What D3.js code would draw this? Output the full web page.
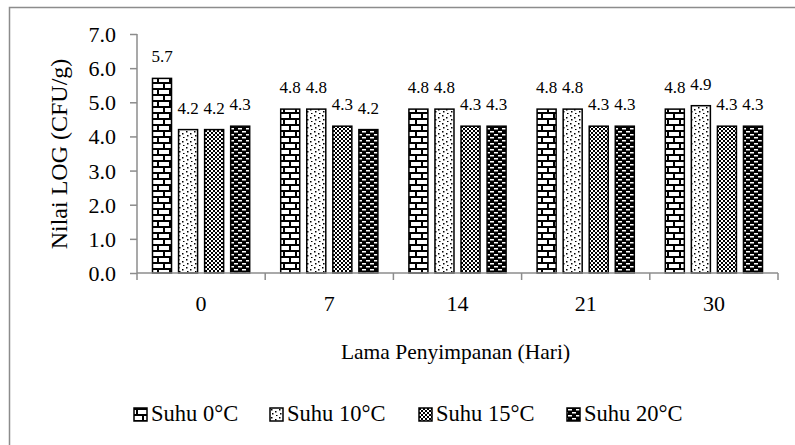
<!DOCTYPE html>
<meta charset="utf-8">
<script src="https://d3js.org/d3.v7.min.js"></script>
<style>
    body { margin: 0; background: #fff; }
    svg text { font-family: "Times New Roman", "Liberation Serif", Times, "DejaVu Serif", serif !important; fill: #000; }
</style>
<div id="chart"></div>
<script>
    // data
    var days = ["0", "7", "14", "21", "30"];
    var seriesNames = ["Suhu 0°C", "Suhu 10°C", "Suhu 15°C", "Suhu 20°C"];
    var suhu0  = [5.7, 4.8, 4.8, 4.8, 4.8];
    var suhu10 = [4.2, 4.8, 4.8, 4.8, 4.9];
    var suhu15 = [4.2, 4.3, 4.3, 4.3, 4.3];
    var suhu20 = [4.3, 4.2, 4.3, 4.3, 4.3];
    var yTicks = [0, 1, 2, 3, 4, 5, 6, 7];

    var series = [suhu0, suhu10, suhu15, suhu20];

    var W = 795, H = 445;
    var margin = {top: 34, right: 17, bottom: 172, left: 137},
        width = W - margin.left - margin.right,
        height = H - margin.top - margin.bottom;

    var serif = '"Times New Roman", "Liberation Serif", Times, "DejaVu Serif", serif';

    var svg = d3.select("#chart").append("svg")
        .attr("width", W).attr("height", H)
        .attr("font-family", serif);

    // hatch patterns
    var defs = svg.append("defs");
    var p0 = defs.append("pattern").attr("id", "pat0").attr("patternUnits", "userSpaceOnUse")
        .attr("width", 12).attr("height", 12);
    p0.append("rect").attr("width", 12).attr("height", 12).attr("fill", "#fff");
    p0.append("rect").attr("x", 0).attr("y", 0).attr("width", 12).attr("height", 2).attr("fill", "#000");
    p0.append("rect").attr("x", 0).attr("y", 6).attr("width", 12).attr("height", 2).attr("fill", "#000");
    p0.append("rect").attr("x", 2).attr("y", 0).attr("width", 2).attr("height", 6).attr("fill", "#000");
    p0.append("rect").attr("x", 8).attr("y", 6).attr("width", 2).attr("height", 6).attr("fill", "#000");

    var p1 = defs.append("pattern").attr("id", "pat1").attr("patternUnits", "userSpaceOnUse")
        .attr("width", 8).attr("height", 8);
    p1.append("rect").attr("width", 8).attr("height", 8).attr("fill", "#fff");
    [[1, 1], [5, 3], [2, 5], [6, 7]].forEach(function (d) {
        p1.append("rect").attr("x", d[0]).attr("y", d[1]).attr("width", 1.5).attr("height", 1.5).attr("fill", "#000");
    });

    var p2 = defs.append("pattern").attr("id", "pat2").attr("patternUnits", "userSpaceOnUse")
        .attr("width", 8).attr("height", 8);
    p2.append("rect").attr("width", 8).attr("height", 8).attr("fill", "#fff");
    [[0, 0], [2, 2], [4, 4], [6, 6], [4, 0], [6, 2], [0, 4], [2, 6]].forEach(function (d) {
        p2.append("rect").attr("x", d[0]).attr("y", d[1]).attr("width", 2).attr("height", 2).attr("fill", "#000");
    });

    var p3 = defs.append("pattern").attr("id", "pat3").attr("patternUnits", "userSpaceOnUse")
        .attr("width", 8).attr("height", 6);
    p3.append("rect").attr("width", 8).attr("height", 6).attr("fill", "#000");
    p3.append("rect").attr("x", 1).attr("y", 1).attr("width", 4).attr("height", 1.5).attr("fill", "#fff");
    p3.append("rect").attr("x", 5).attr("y", 4).attr("width", 3).attr("height", 1.5).attr("fill", "#fff");
    p3.append("rect").attr("x", 0).attr("y", 4).attr("width", 1).attr("height", 1.5).attr("fill", "#fff");

    // outer frame
    svg.append("rect").attr("x", 9.5).attr("y", 7.5).attr("width", 820).attr("height", 500)
        .attr("fill", "none").attr("stroke", "#8c8c8c").attr("stroke-width", 1.5);

    var g = svg.append("g").attr("transform", "translate(" + margin.left + "," + margin.top + ")");

    var x0 = d3.scaleBand().domain(days).range([0, width]);
    var x1 = d3.scaleBand().domain(d3.range(4)).range([15.5, x0.bandwidth() - 15.5]).paddingInner(0.27);
    var y = d3.scaleLinear().domain([0, 7]).range([height, 0]);

    // bars
    series.forEach(function (vals, si) {
        g.append("g").selectAll("rect").data(vals).enter().append("rect")
            .attr("x", function (d, i) { return x0(days[i]) + x1(si); })
            .attr("y", function (d) { return y(d); })
            .attr("width", x1.bandwidth())
            .attr("height", function (d) { return height - y(d); })
            .attr("fill", "url(#pat" + si + ")")
            .attr("stroke", "#000").attr("stroke-width", 1.5);
        g.append("g").selectAll("text").data(vals).enter().append("text")
            .attr("x", function (d, i) { return x0(days[i]) + x1(si) + x1.bandwidth() / 2; })
            .attr("y", function (d) { return y(d) - 16; })
            .attr("text-anchor", "middle")
            .style("font-size", "17px")
            .text(function (d) { return d.toFixed(1); });
    });

    // y axis
    var yAxis = g.append("g")
        .call(d3.axisLeft(y).tickValues(yTicks).tickSize(7).tickPadding(14)
            .tickFormat(function (d) { return d.toFixed(1); }));
    yAxis.attr("font-family", serif);
    yAxis.selectAll("path, line").attr("stroke", "#8c8c8c").attr("stroke-width", 1.5);
    yAxis.selectAll("text").style("font-size", "22px").attr("dy", "0.34em");
    yAxis.select(".domain").attr("d", "M0," + height + "V0");

    // x axis
    var xAxis = g.append("g").attr("transform", "translate(0," + height + ")")
        .call(d3.axisBottom(x0).tickSize(0).tickPadding(22));
    xAxis.attr("font-family", serif);
    xAxis.select(".domain").attr("stroke", "#8c8c8c").attr("stroke-width", 1.5)
        .attr("d", "M0,0H" + width);
    xAxis.selectAll("text").style("font-size", "22px");
    // tick marks between groups
    xAxis.append("g").selectAll("line").data(d3.range(days.length + 1)).enter().append("line")
        .attr("x1", function (i) { return i * x0.step(); })
        .attr("x2", function (i) { return i * x0.step(); })
        .attr("y1", 0).attr("y2", 7)
        .attr("stroke", "#8c8c8c").attr("stroke-width", 1.5);

    // axis titles
    svg.append("text").attr("x", margin.left + width / 2 - 2).attr("y", 359)
        .attr("text-anchor", "middle").style("font-size", "21.5px")
        .text("Lama Penyimpanan (Hari)");
    svg.append("text").attr("transform", "translate(67,154) rotate(-90)")
        .attr("text-anchor", "middle").style("font-size", "24px")
        .text("Nilai LOG (CFU/g)");

    // legend
    var legendX = [134, 270, 419, 567];
    var legend = svg.append("g").selectAll("g").data(seriesNames).enter().append("g")
        .attr("transform", function (d, i) { return "translate(" + legendX[i] + ",408)"; });
    legend.append("rect").attr("width", 13).attr("height", 13)
        .attr("fill", function (d, i) { return "url(#pat" + i + ")"; })
        .attr("stroke", "#000").attr("stroke-width", 1.5);
    legend.append("text").attr("x", 17).attr("y", 13)
        .style("font-size", "22.5px")
        .text(function (d) { return d; });
</script>
